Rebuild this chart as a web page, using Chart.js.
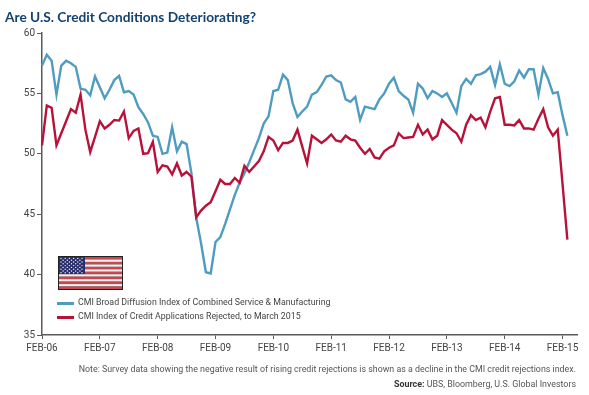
<!DOCTYPE html>
<html>
<head>
<meta charset="utf-8">
<title>Are U.S. Credit Conditions Deteriorating?</title>
<script src="https://cdn.jsdelivr.net/npm/chart.js@4"></script>
<style>
  html, body { margin: 0; padding: 0; background: #fff; }
  #wrap { position: relative; width: 589px; height: 395px; overflow: hidden; font-family: Roboto, sans-serif; }
  #chart { position: absolute; left: 0; top: 0; }
  .abs { position: absolute; white-space: nowrap; }
  #title { left: 5px; top: 8px; font: bold 13.7px Lato, sans-serif; color: #14426f; }
  .legend-text { left: 78px; font-size: 8.8px; color: #444; }
  .swatch { position: absolute; left: 57px; width: 17px; height: 3px; }
  #note { right: 13px; top: 364px; font-size: 8.85px; color: #555; }
  #source { right: 13px; top: 379px; font-size: 8.9px; color: #555; }
  #source b { color: #333; }
  #flag { position: absolute; left: 58px; top: 256px; }
</style>
</head>
<body>
<div id="wrap">
  <canvas id="chart" width="589" height="395"></canvas>
  <div class="abs" id="title">Are U.S. Credit Conditions Deteriorating?</div>
  <svg id="flag" width="65" height="34" viewBox="0 0 65 34"></svg>
  <div class="swatch" style="top:302px;background:#4f9cc0"></div>
  <div class="abs legend-text" style="top:297px">CMI Broad Diffusion Index of Combined Service &amp; Manufacturing</div>
  <div class="swatch" style="top:316px;background:#b8123a"></div>
  <div class="abs legend-text" style="top:311px">CMI Index of Credit Applications Rejected, to March 2015</div>
  <div class="abs" id="note">Note: Survey data showing the negative result of rising credit rejections is shown as a decline in the CMI credit rejections index.</div>
  <div class="abs" id="source"><b>Source:</b> UBS, Bloomberg, U.S. Global Investors</div>
</div>
<script>
var yearLabels = ['06', '07', '08', '09', '10', '11', '12', '13', '14', '15'];
var yTicks = [35, 40, 45, 50, 55, 60];

// monthly readings, Feb-06 to Mar-15
var broadIndex = [
  57.3, 58.2, 57.7, 54.9, 57.3, 57.7, 57.5, 57.2, 55.4, 55.3, 54.85, 56.4,
  55.5, 54.6, 55.3, 56.1, 56.45, 55.1, 55.2, 54.9, 53.85, 53.3, 52.6, 51.5,
  51.4, 50.0, 50.1, 52.2, 50.2, 51.0, 50.8, 48.4, 44.7, 42.6, 40.2, 40.1,
  42.7, 43.1, 44.2, 45.4, 46.6, 47.6, 48.4, 49.3, 50.3, 51.3, 52.5, 53.1,
  55.2, 55.3, 56.55, 56.1, 54.2, 53.05, 53.5, 53.9, 54.9, 55.1, 55.7, 56.4,
  56.5, 56.1, 55.9, 54.5, 54.3, 54.7, 52.8, 53.9, 53.8, 53.7, 54.5, 55.0,
  55.8, 56.3, 55.2, 54.8, 54.5, 53.4, 55.8, 55.4, 54.6, 55.2, 55.0, 54.7,
  55.0, 54.2, 53.4, 55.6, 56.2, 55.8, 56.5, 56.6, 56.8, 57.2, 55.7, 57.4,
  55.8, 55.6, 56.0, 56.9, 56.3, 57.0, 57.0, 54.9, 57.1, 56.2, 55.0, 55.1,
  53.2, 51.5
];
var rejectedIndex = [
  50.7, 54.0, 53.8, 50.7, 51.7, 52.7, 53.7, 53.4, 54.9, 52.0, 50.15, 51.4,
  52.7, 52.1, 52.4, 52.8, 52.75, 53.5, 51.3, 51.9, 52.1, 50.0, 50.05, 51.0,
  48.5, 49.05, 48.95, 48.3, 49.2, 48.2, 48.5, 48.1, 44.75, 45.3, 45.7, 46.0,
  46.9, 47.85, 47.5, 47.5, 48.0, 47.6, 49.0, 48.5, 48.95, 49.4, 50.2, 51.4,
  51.1, 50.3, 50.9, 50.9, 51.1, 52.0, 50.6, 49.2, 51.5, 51.2, 50.9, 51.2,
  51.6, 51.1, 51.0, 51.5, 51.2, 51.1, 50.5, 50.0, 50.4, 49.7, 49.6, 50.2,
  50.5, 50.7, 51.7, 51.3, 51.35, 51.4, 52.4, 51.6, 52.0, 51.2, 51.5, 52.8,
  52.4, 52.0, 51.7, 51.0, 52.4, 53.2, 52.8, 53.0, 52.2, 53.5, 54.6, 54.7,
  52.4, 52.4, 52.35, 52.8, 52.1, 52.1, 52.0, 52.9, 53.7, 52.2, 51.5, 52.0,
  47.5, 42.9
];

// one slot per month, plus two empty ones so the axis runs on past the last point
var months = [];
for (var m = 0; m < 112; m++) {
  months.push(m % 12 === 0 ? 'FEB-' + yearLabels[m / 12] : '');
}

var axisColor = '#5a5a5a';
var tickFont = { family: 'Roboto', size: 10 };

new Chart(document.getElementById('chart'), {
  type: 'line',
  data: {
    labels: months,
    datasets: [{
      label: 'CMI Broad Diffusion Index of Combined Service & Manufacturing',
      data: broadIndex,
      borderColor: '#4f9cc0',
      borderWidth: 2.4,
      pointRadius: 0,
      tension: 0,
      order: 2
    }, {
      label: 'CMI Index of Credit Applications Rejected, to March 2015',
      data: rejectedIndex,
      borderColor: '#b8123a',
      borderWidth: 2.4,
      pointRadius: 0,
      tension: 0,
      order: 1
    }]
  },
  options: {
    responsive: false,
    animation: false,
    layout: { padding: { left: 0, right: 12, top: 33, bottom: 0 } },
    plugins: { legend: { display: false }, tooltip: { enabled: false } },
    scales: {
      x: {
        offset: false,
        afterFit: function (scale) { scale.height = 60; },
        border: { color: axisColor, width: 1.5 },
        grid: { drawOnChartArea: false, tickLength: 4, tickColor: axisColor },
        ticks: {
          autoSkip: false,
          maxRotation: 0,
          padding: 3,
          color: '#444',
          font: tickFont,
          callback: function (value, i) { return months[i] ? months[i] : null; }
        }
      },
      y: {
        min: yTicks[0],
        max: yTicks[yTicks.length - 1],
        afterFit: function (scale) { scale.width = 42; },
        afterBuildTicks: function (scale) {
          scale.ticks = yTicks.map(function (v) { return { value: v }; });
        },
        border: { color: axisColor, width: 1.5 },
        grid: { drawOnChartArea: false, tickLength: 5, tickColor: axisColor },
        ticks: { padding: 2, color: '#444', font: tickFont }
      }
    }
  }
});

// flag
var flag = document.getElementById('flag');
var svg = '<rect x="0" y="0" width="65" height="34" fill="#222"/>';
for (var s = 0; s < 13; s++) {
  svg += '<rect x="1" y="' + (1 + s * 32 / 13) + '" width="63" height="' + (32 / 13) + '" fill="' + (s % 2 ? '#f3eeee' : '#c8474f') + '"/>';
}
svg += '<rect x="1" y="1" width="26" height="17" fill="#2a2f6b"/>';
for (var r = 0; r < 9; r++) {
  for (var c = 0; c < (r % 2 ? 5 : 6); c++) {
    svg += '<circle cx="' + (3 + c * 4.2 + (r % 2 ? 2.1 : 0)) + '" cy="' + (2.4 + r * 1.8) + '" r="0.7" fill="#eef"/>';
  }
}
flag.innerHTML = svg;
</script>
</body>
</html>
